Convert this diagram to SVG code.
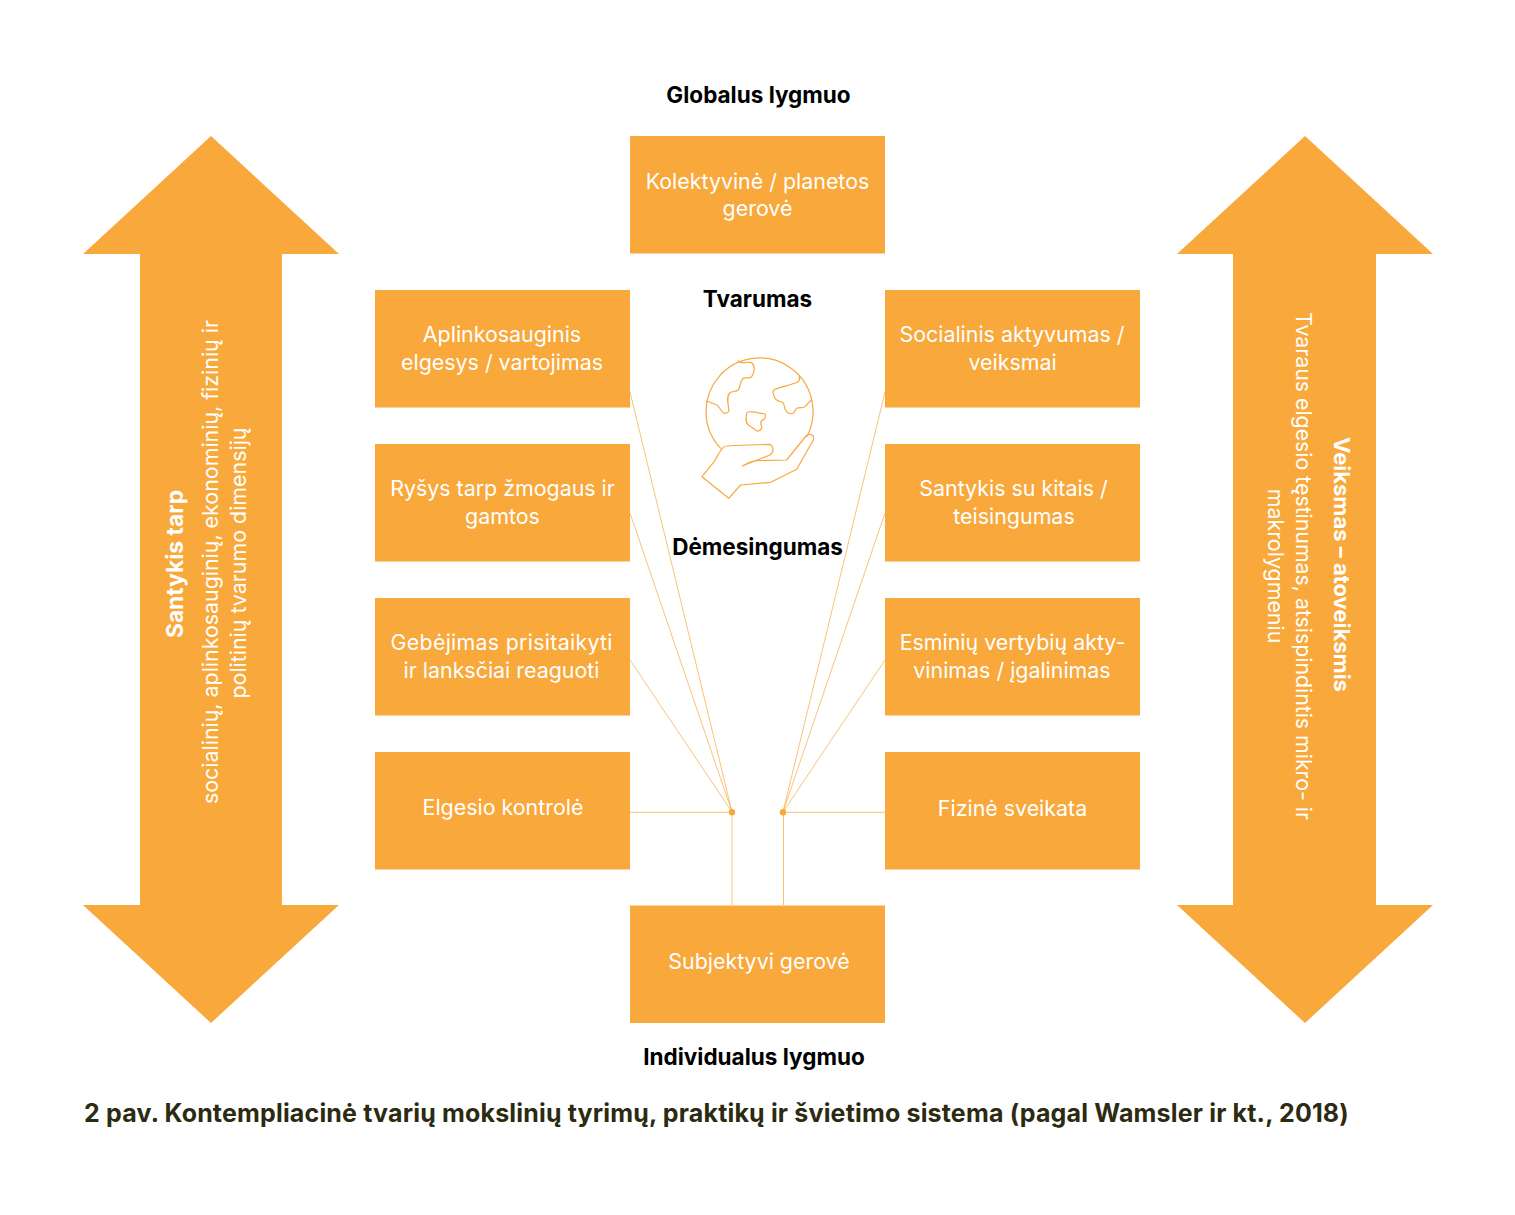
<svg xmlns="http://www.w3.org/2000/svg" width="1515" height="1215" viewBox="0 0 1515 1215">
<style>
text{font-family:"Inter","Liberation Sans",sans-serif}
.box{fill:#f9a83b}
.t{fill:#fff;font-size:21.4px;text-anchor:middle}
.h{fill:#000;font-size:22.5px;font-weight:700;text-anchor:middle}
.b{font-weight:700}
.c{fill:none;stroke:#f9a83b;stroke-width:.7}
.v{fill:none;stroke:#fbd9a6;stroke-width:1.4}
.g{fill:none;stroke:#f9a83b;stroke-width:1.2;stroke-linejoin:round;stroke-linecap:round}
</style>
<rect width="1515" height="1215" fill="#fff"/>
<g id="connectors">
<path class="c" d="M630 392L732 812M630 513L732 812M630 660L732 812M630 812.300H732M885 392L783 812M885 513L783 812M885 660L783 812M885 812.300H783M783.500 812V905"/>
<path class="v" d="M732 812V905"/>
<circle cx="732" cy="812.300" r="3.200" fill="#f9a83b"/><circle cx="783" cy="812.300" r="3.200" fill="#f9a83b"/>
</g>
<g id="label-global"><text class="h" x="758.500" y="103">Globalus lygmuo</text></g>
<g id="n-kolektyvine"><rect class="box" x="630" y="136" width="255" height="117.500"/><text class="t" x="757.500" y="189">Kolektyvinė / planetos</text><text class="t" x="757.500" y="216">gerovė</text></g>
<g id="n-aplinko"><rect class="box" x="375" y="290" width="255" height="117.500"/><text class="t" x="502" y="342">Aplinkosauginis</text><text class="t" x="502" y="370">elgesys / vartojimas</text></g>
<g id="n-rysys"><rect class="box" x="375" y="444" width="255" height="117.500"/><text class="t" x="502.500" y="496">Ryšys tarp žmogaus ir</text><text class="t" x="502.500" y="524">gamtos</text></g>
<g id="n-gebejimas"><rect class="box" x="375" y="598" width="255" height="117.500"/><text class="t" x="501.500" y="650" textLength="222" lengthAdjust="spacing">Gebėjimas prisitaikyti</text><text class="t" x="501.500" y="678">ir lanksčiai reaguoti</text></g>
<g id="n-elgesio"><rect class="box" x="375" y="752" width="255" height="117.500"/><text class="t" x="503" y="815">Elgesio kontrolė</text></g>
<g id="n-socialinis"><rect class="box" x="885" y="290" width="255" height="117.500"/><text class="t" x="1012" y="342">Socialinis aktyvumas /</text><text class="t" x="1012.500" y="370">veiksmai</text></g>
<g id="n-santykis"><rect class="box" x="885" y="444" width="255" height="117.500"/><text class="t" x="1013.500" y="496">Santykis su kitais /</text><text class="t" x="1014" y="524">teisingumas</text></g>
<g id="n-esminiu"><rect class="box" x="885" y="598" width="255" height="117.500"/><text class="t" x="1012.500" y="650">Esminių vertybių akty-</text><text class="t" x="1012" y="678">vinimas / įgalinimas</text></g>
<g id="n-fizine"><rect class="box" x="885" y="752" width="255" height="117.500"/><text class="t" x="1012.500" y="816">Fizinė sveikata</text></g>
<g id="n-subjektyvi"><rect class="box" x="630" y="905.500" width="255" height="117.500"/><text class="t" x="759" y="969">Subjektyvi gerovė</text></g>
<g id="label-tvarumas"><text class="h" x="757.500" y="307">Tvarumas</text></g>
<g id="label-demesingumas"><text class="h" x="757.500" y="555">Dėmesingumas</text></g>
<g id="label-individualus"><text class="h" x="754" y="1065">Individualus lygmuo</text></g>
<g id="globe">
<path class="g" d="M720.700 448.300A53.500 53.500 0 1 1 806.700 436.700"/>
<path class="g" d="M723.300 447.300C718 453 717 458 713.300 462.700L702 476.700L728.700 498.300L740.700 485L770.700 482.300L796.700 469.300L813.300 440C815 434 809 433 806 436L786.700 460L755 460.700C750 462 746 464 742.300 466L770 455C774 452 774 447 770 444.300L733 445.500C728 446 725 446 723.300 447.300Z"/>
<path class="g" d="M738.300 360.700C740 365 749 361 751.700 362.700C755 365 755 372 751.700 376.700C749 379 745 377 743.300 378.300C740 381 740 388 738.300 390C736 392 732 391 730 392.700C726 396 728 404 729 410C729 413 725 414 723.300 412.700C720 410 719 406 716.700 405L706.700 401"/>
<path class="g" d="M799.300 376C800 379 799 381 798.300 381.700C792 385 780 387 775 389.300C772 391 773 393 773.300 393.300C774 397 775 399 776.700 400C779 402 782 401 783.300 403.300C785 406 784 410 786.700 411.700C789 414 792 414 793.300 413.300C795 412 795 409 796.700 408.300C799 407 802 408 804 407.300C807 406 809 402 811 400"/>
<path class="g" d="M746.700 413.300C748 411 750 412 751.700 411.700L765 414C766 415 765 417 765 418.300C764 420 761 420 761 421.700C760 424 762 426 761.700 428.300C761 430 759 431 757.300 431L748.300 425C746 423 746 420 746 418.300Z"/>
</g>
<g id="arrow-left"><path class="box" d="M211 136L339 254H282V905H339L211 1023L83 905H140V254H83Z"/>
<g transform="rotate(-90 211 580)"><text class="t b" x="227" y="552" font-size="22.800" style="font-size:22.800px">Santykis tarp</text><text class="t" x="229" y="586.500">socialinių, aplinkosauginių, ekonominių, fizinių ir</text><text class="t" x="228" y="614.500">politinių tvarumo dimensijų</text></g></g>
<g id="arrow-right"><path class="box" d="M1305 136L1433 254H1376V905H1433L1305 1023L1177 905H1233V254H1177Z"/>
<g transform="rotate(90 1305 580)"><text class="t b" x="1289.500" y="551" style="font-size:22px">Veiksmas – atoveiksmis</text><text class="t" x="1291" y="589" textLength="508" lengthAdjust="spacing">Tvaraus elgesio tęstinumas, atsispindintis mikro- ir</text><text class="t" x="1291" y="617">makrolygmeniu</text></g></g>
<g id="caption"><text x="84" y="1122" font-size="25" font-weight="700" letter-spacing=".17" fill="#2d2a12">2 pav. Kontempliacinė tvarių mokslinių tyrimų, praktikų ir švietimo sistema (pagal Wamsler ir kt., 2018)</text></g>
</svg>
